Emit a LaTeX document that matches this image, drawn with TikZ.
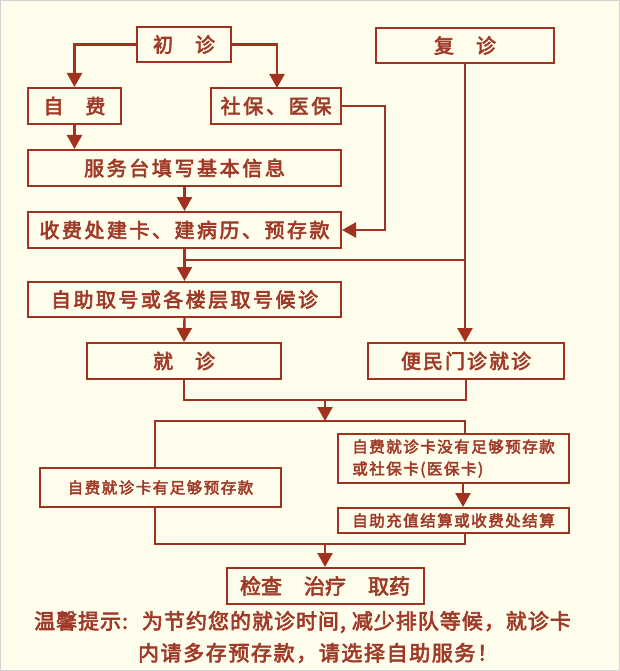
\documentclass[tikz,border=0pt]{standalone}
\usepackage{fontspec}
\newfontfamily\hei{Noto Sans CJK SC}[FakeBold=3]
\usetikzlibrary{arrows.meta}
\definecolor{hred}{HTML}{A0321F}
\definecolor{htext}{HTML}{A03A28}
\definecolor{bgc}{HTML}{FFFDEB}
\makeatletter
%字间距
\newcommand\gapt[2]{\@tfor\gch:=#2\do{\gch\hspace{#1}}\unskip}
\makeatother
\begin{document}
\begin{tikzpicture}[x=1pt,y=-1pt,
  box/.style={draw=hred,line width=2pt,inner sep=0pt,text=htext,font=\hei\fontsize{20}{22}\selectfont},
  small/.style={box,font=\hei\fontsize{15.5}{19}\selectfont},
  tip/.style={text=htext,inner sep=0pt,font=\hei\fontsize{21}{22}\selectfont},
  line/.style={draw=hred,line width=2.4pt},
  arr/.style={line,-{Triangle[width=15pt,length=14pt]}}]
%底色和边框
\fill[bgc] (0,0) rectangle (620,671);
\draw[gray!35,line width=1pt] (0.5,0.5) rectangle (619.5,670.5);
\useasboundingbox (0,0) rectangle (620,671);
%各个方框
\node[box,minimum width=94pt,minimum height=35pt] (chuzhen) at (184,44.5) {初\hspace{22pt}诊};
\node[box,minimum width=178pt,minimum height=35pt] (fuzhen) at (465,45.5) {复\hspace{22pt}诊};
\node[box,minimum width=93pt,minimum height=36pt] (zifei) at (74.5,106) {自\hspace{22pt}费};
\node[box,minimum width=130pt,minimum height=36pt] (shebao) at (276,106) {\gapt{2.7pt}{社保、医保}};
\node[box,minimum width=313pt,minimum height=36pt] (fuwutai) at (184.5,168) {\gapt{2.6pt}{服务台填写基本信息}};
\node[box,minimum width=313pt,minimum height=36pt] (shoufei) at (184.5,230) {\gapt{2.5pt}{收费处建卡、建病历、预存款}};
\node[box,minimum width=313pt,minimum height=35pt] (quhao) at (184.5,299.5) {\gapt{2.45pt}{自助取号或各楼层取号候诊}};
\node[box,minimum width=194pt,minimum height=36pt] (jiuzhen) at (184,361) {就\hspace{22pt}诊};
\node[box,minimum width=196pt,minimum height=36pt] (bianmin) at (466,361) {\gapt{2pt}{便民门诊就诊}};
\node[small,minimum width=231pt,minimum height=49pt,align=left] (meiyou) at (453.5,458.5)
  {\gapt{1.5pt}{自费就诊卡没有足够预存款}\\[3pt]\gapt{1.5pt}{或社保卡(医保卡)}};
\node[small,minimum width=241pt,minimum height=39pt] (you) at (160.5,487.5) {\gapt{1.5pt}{自费就诊卡有足够预存款}};
\node[small,minimum width=231pt,minimum height=25pt] (chongzhi) at (453.5,520.5) {\gapt{1.5pt}{自助充值结算或收费处结算}};
\node[box,minimum width=197pt,minimum height=36pt,font=\hei\fontsize{21}{22}\selectfont] (jiancha) at (325,586) {检查\hspace{22pt}治疗\hspace{22pt}取药};
%温馨提示
\node[tip] (tip1) at (302.5,622) {\gapt{1pt}{温馨提示:}\hspace{14pt}\gapt{1pt}{为节约您的就诊时间,}\hspace{6pt}\gapt{1pt}{减少排队等候，就诊卡}};
\node[tip] (tip2) at (318,653) {\gapt{1.6pt}{内请多存预存款，请选择自助服务！}};
%连线
\coordinate (j1) at (184.5,260);
\coordinate (m1) at (325,400);
\coordinate (m2) at (325,421);
\coordinate (s1) at (155,421);
\coordinate (s2) at (465,421);
\coordinate (s3) at (463,496);
\coordinate (m3) at (325,544);
\draw[arr] (chuzhen.west) -| (zifei.north);
\draw[arr] (chuzhen.east) -| (277,88);
\draw[arr] (zifei.south) -- (zifei.south |- fuwutai.north);
\draw[arr] (fuwutai.south) -- (shoufei.north);
\draw[arr] (shebao.east) -- (385,106) |- (shoufei.east);
\draw[arr] (fuzhen.south) -- (fuzhen.south |- bianmin.north);
\draw[line] (fuzhen.south |- j1) -- (j1);
\draw[arr] (shoufei.south) -- (quhao.north);
\draw[arr] (quhao.south) -- (jiuzhen.north);
\draw[line] (jiuzhen.south) |- (m1) -| (bianmin.south);
\draw[arr] (m1) -- (m2);
\draw[line] (s1 |- you.north) -- (s1) -- (s2) -- (s2 |- meiyou.north);
\draw[arr] (s3 |- meiyou.south) -- (s3 |- chongzhi.north);
\draw[line] (s1 |- you.south) |- (m3) -| (s2 |- chongzhi.south);
\draw[arr] (m3) -- (jiancha.north);
\end{tikzpicture}
\end{document}
